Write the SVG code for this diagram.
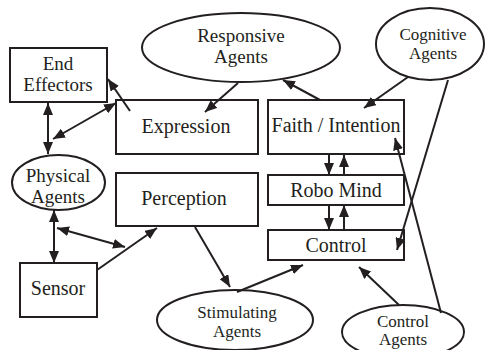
<svg xmlns="http://www.w3.org/2000/svg" width="486" height="350" viewBox="0 0 486 350">
<style>
.box{fill:#fff;stroke:#231f20;stroke-width:2}
.ell{fill:#fff;stroke:#231f20;stroke-width:2}
text{font-family:"Liberation Serif";font-size:20px;fill:#231f20;text-anchor:middle}
.m{font-size:19px}
.s{font-size:17px}
.c line{stroke:#231f20;stroke-width:2;fill:none}
</style>
<defs>
<marker id="a" markerUnits="userSpaceOnUse" viewBox="0 0 12 10" markerWidth="12" markerHeight="10" refX="12" refY="5" orient="auto-start-reverse">
<path d="M0,0 L12,5 L0,10 z" fill="#231f20"/>
</marker>
</defs>
<rect width="486" height="350" fill="#fff"/>
<g id="end-effectors"><rect class="box" x="10" y="48" width="97" height="54"/><text class="m" x="58" y="70">End</text><text class="m" x="58" y="91">Effectors</text></g>
<g id="expression"><rect class="box" x="116" y="100" width="142" height="54"/><text x="186" y="133">Expression</text></g>
<g id="responsive-agents"><ellipse class="ell" cx="241" cy="47.5" rx="99" ry="34.5"/><text class="m" x="241" y="42">Responsive</text><text class="m" x="241" y="63">Agents</text></g>
<g id="cognitive-agents"><ellipse class="ell" cx="430" cy="44" rx="54" ry="36"/><text class="s" x="433" y="40">Cognitive</text><text class="s" x="433" y="59">Agents</text></g>
<g id="faith-intention"><rect class="box" x="268" y="100" width="136" height="54"/><text x="336" y="132">Faith / Intention</text></g>
<g id="physical-agents"><ellipse class="ell" cx="58.5" cy="182.5" rx="46.5" ry="27.5"/><text class="m" x="58" y="182">Physical</text><text class="m" x="58" y="203">Agents</text></g>
<g id="perception"><rect class="box" x="116" y="173" width="142" height="53"/><text x="184" y="205">Perception</text></g>
<g id="robo-mind"><rect class="box" x="268" y="175" width="136" height="30"/><text x="336" y="197">Robo Mind</text></g>
<g id="control"><rect class="box" x="268" y="230" width="136" height="30"/><text x="336" y="252">Control</text></g>
<g id="sensor"><rect class="box" x="20" y="263" width="77" height="54"/><text x="58" y="295">Sensor</text></g>
<g id="stimulating-agents"><ellipse class="ell" cx="235" cy="320" rx="78" ry="30"/><text class="s" x="237" y="318">Stimulating</text><text class="s" x="237" y="337">Agents</text></g>
<g id="control-agents"><ellipse class="ell" cx="403" cy="332" rx="61" ry="27"/><text class="s" x="403" y="327">Control</text><text class="s" x="403" y="345">Agents</text></g>
<g id="connectors" class="c">
<line x1="48" y1="103" x2="48" y2="154" marker-start="url(#a)" marker-end="url(#a)"/>
<line x1="53" y1="139" x2="116" y2="103" marker-start="url(#a)" marker-end="url(#a)"/>
<line x1="130" y1="111" x2="108" y2="79" marker-end="url(#a)"/>
<line x1="238" y1="83" x2="205" y2="112" marker-end="url(#a)"/>
<line x1="320" y1="100" x2="283" y2="80" marker-end="url(#a)"/>
<line x1="408" y1="77" x2="364" y2="108" marker-end="url(#a)"/>
<line x1="448" y1="80" x2="397" y2="250" marker-end="url(#a)"/>
<line x1="441" y1="313" x2="395" y2="138" marker-end="url(#a)"/>
<line x1="329" y1="155" x2="329" y2="175" marker-end="url(#a)"/>
<line x1="344" y1="175" x2="344" y2="155" marker-end="url(#a)"/>
<line x1="329" y1="205" x2="329" y2="230" marker-end="url(#a)"/>
<line x1="344" y1="230" x2="344" y2="205" marker-end="url(#a)"/>
<line x1="237" y1="292" x2="303" y2="265" marker-end="url(#a)"/>
<line x1="399" y1="305" x2="359" y2="267" marker-end="url(#a)"/>
<line x1="54" y1="210" x2="54" y2="263" marker-start="url(#a)" marker-end="url(#a)"/>
<line x1="57" y1="228" x2="125" y2="247" marker-start="url(#a)" marker-end="url(#a)"/>
<line x1="97" y1="270" x2="157" y2="228" marker-end="url(#a)"/>
<line x1="195" y1="227" x2="230" y2="287" marker-end="url(#a)"/>
</g>
</svg>
